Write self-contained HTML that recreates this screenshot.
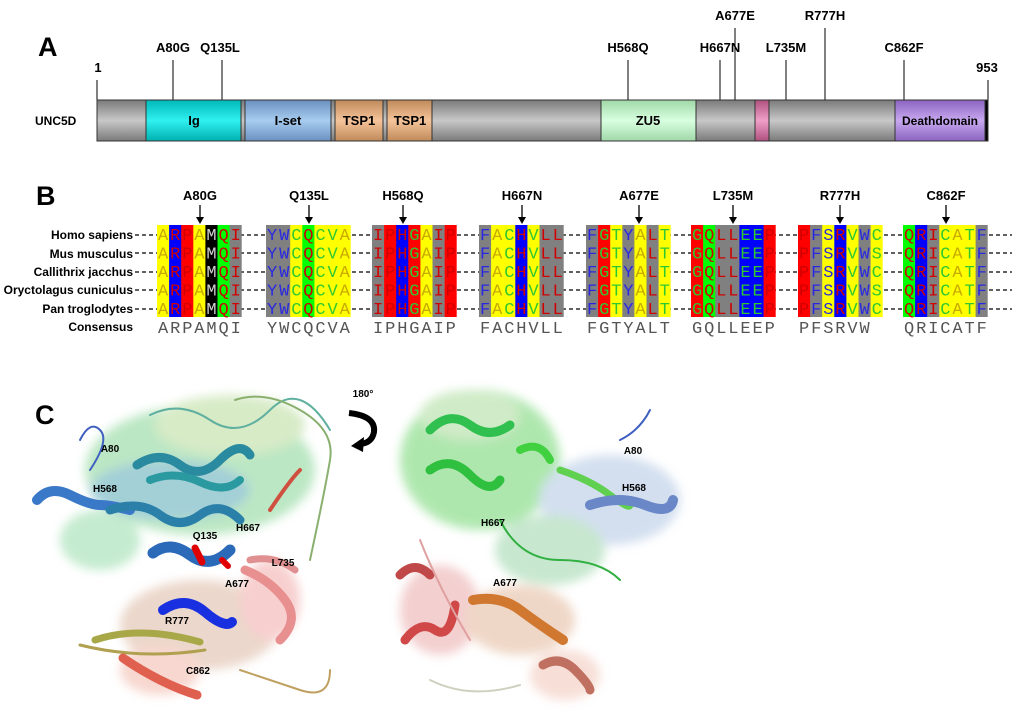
<!DOCTYPE html>
<html><head><meta charset="utf-8"><style>
body{margin:0;background:#fff;}
svg{display:block;font-family:"Liberation Sans",Arial,sans-serif;}
.lb{font-size:13px;font-weight:bold;text-anchor:middle;}
.sp{font-size:12px;font-weight:bold;text-anchor:end;}
.aa{font-family:"Liberation Mono",monospace;font-size:17px;}
.o{fill:#c8aa00}.r{fill:#d00000}.b{fill:#2828e0}.g{fill:#30c830}.w{fill:#d0d0d0}
.cs{font-family:"Liberation Mono",monospace;font-size:17px;fill:#555;}
.pl{font-size:10px;font-weight:bold;text-anchor:middle;}
</style></head><body>
<svg width="1020" height="717" viewBox="0 0 1020 717">
<defs>
<linearGradient id="gr" x1="0" y1="0" x2="0" y2="1"><stop offset="0" stop-color="#7a7a7a"/><stop offset="0.5" stop-color="#c8c8c8"/><stop offset="1" stop-color="#7a7a7a"/></linearGradient>
<linearGradient id="cy" x1="0" y1="0" x2="0" y2="1"><stop offset="0" stop-color="#00b8b8"/><stop offset="0.5" stop-color="#30f0f0"/><stop offset="1" stop-color="#00b0b0"/></linearGradient>
<linearGradient id="bl" x1="0" y1="0" x2="0" y2="1"><stop offset="0" stop-color="#6a90c0"/><stop offset="0.5" stop-color="#a8cdf0"/><stop offset="1" stop-color="#6a90c0"/></linearGradient>
<linearGradient id="ts" x1="0" y1="0" x2="0" y2="1"><stop offset="0" stop-color="#c08a5a"/><stop offset="0.5" stop-color="#f5c49a"/><stop offset="1" stop-color="#c08a5a"/></linearGradient>
<linearGradient id="zu" x1="0" y1="0" x2="0" y2="1"><stop offset="0" stop-color="#a0d8a8"/><stop offset="0.5" stop-color="#d8ffe0"/><stop offset="1" stop-color="#a0d8a8"/></linearGradient>
<linearGradient id="pk" x1="0" y1="0" x2="0" y2="1"><stop offset="0" stop-color="#b05080"/><stop offset="0.5" stop-color="#f0a0c8"/><stop offset="1" stop-color="#b05080"/></linearGradient>
<linearGradient id="dd" x1="0" y1="0" x2="0" y2="1"><stop offset="0" stop-color="#8a64c0"/><stop offset="0.5" stop-color="#c8a8f0"/><stop offset="1" stop-color="#8a64c0"/></linearGradient>
<filter id="bf"><feGaussianBlur stdDeviation="5"/></filter>
</defs>

<!-- Panel A -->
<text x="38" y="56" font-size="27" font-weight="bold">A</text>
<g stroke="#000" stroke-width="1">
<line x1="97" y1="80" x2="97" y2="100"/><line x1="988" y1="80" x2="988" y2="100"/>
<line x1="173" y1="60" x2="173" y2="100"/><line x1="222" y1="60" x2="222" y2="100"/>
<line x1="628" y1="60" x2="628" y2="100"/><line x1="720" y1="60" x2="720" y2="100"/>
<line x1="735" y1="28" x2="735" y2="100"/><line x1="786" y1="60" x2="786" y2="100"/>
<line x1="825" y1="28" x2="825" y2="100"/><line x1="904" y1="60" x2="904" y2="100"/>
</g>
<g class="lb">
<text x="98" y="72">1</text><text x="987" y="72">953</text>
<text x="173" y="52">A80G</text><text x="220" y="52">Q135L</text>
<text x="628" y="52">H568Q</text><text x="720" y="52">H667N</text>
<text x="735" y="20">A677E</text><text x="786" y="52">L735M</text>
<text x="825" y="20">R777H</text><text x="904" y="52">C862F</text>
</g>
<text x="35" y="125" font-size="12" font-weight="bold">UNC5D</text>
<g stroke="#333" stroke-width="1">
<rect x="97" y="100" width="891" height="41" fill="url(#gr)"/>
<rect x="146" y="100" width="95" height="41" fill="url(#cy)"/>
<rect x="245" y="100" width="86" height="41" fill="url(#bl)"/>
<rect x="335" y="100" width="48" height="41" fill="url(#ts)"/>
<rect x="387" y="100" width="45" height="41" fill="url(#ts)"/>
<rect x="601" y="100" width="95" height="41" fill="url(#zu)"/>
<rect x="755" y="100" width="14" height="41" fill="url(#pk)"/>
<rect x="895" y="100" width="90" height="41" fill="url(#dd)"/>
<rect x="985" y="100" width="3" height="41" fill="#000"/>
</g>
<g class="lb" font-size="13">
<text x="194" y="125">Ig</text><text x="288" y="125">I-set</text>
<text x="359" y="125">TSP1</text><text x="410" y="125">TSP1</text>
<text x="648" y="125">ZU5</text><text x="940" y="125" font-size="12">Deathdomain</text>
</g>

<!-- Panel B -->
<text x="36" y="205" font-size="27" font-weight="bold">B</text>
<g class="lb">
<text x="200" y="200">A80G</text><text x="309" y="200">Q135L</text><text x="403" y="200">H568Q</text><text x="522" y="200">H667N</text>
<text x="639" y="200">A677E</text><text x="733" y="200">L735M</text><text x="840" y="200">R777H</text><text x="946" y="200">C862F</text>
</g>
<g stroke="#000" stroke-width="1.3">
<line x1="200" y1="205" x2="200" y2="221"/><line x1="309" y1="205" x2="309" y2="221"/><line x1="403" y1="205" x2="403" y2="221"/><line x1="522" y1="205" x2="522" y2="221"/>
<line x1="639" y1="205" x2="639" y2="221"/><line x1="733" y1="205" x2="733" y2="221"/><line x1="840" y1="205" x2="840" y2="221"/><line x1="946" y1="205" x2="946" y2="221"/>
</g>
<g fill="#000">
<path d="M196,217 L204,217 L200,224Z"/><path d="M305,217 L313,217 L309,224Z"/><path d="M399,217 L407,217 L403,224Z"/><path d="M518,217 L526,217 L522,224Z"/>
<path d="M635,217 L643,217 L639,224Z"/><path d="M729,217 L737,217 L733,224Z"/><path d="M836,217 L844,217 L840,224Z"/><path d="M942,217 L950,217 L946,224Z"/>
</g>
<g class="sp">
<text x="133" y="239">Homo sapiens</text><text x="133" y="258">Mus musculus</text><text x="133" y="276">Callithrix jacchus</text>
<text x="133" y="294">Oryctolagus cuniculus</text><text x="133" y="313">Pan troglodytes</text><text x="133" y="331">Consensus</text>
</g>
<g stroke="#000" stroke-width="1.2" stroke-dasharray="4 3">
<line x1="135" y1="235" x2="1012" y2="235"/><line x1="135" y1="253" x2="1012" y2="253"/><line x1="135" y1="272" x2="1012" y2="272"/>
<line x1="135" y1="290" x2="1012" y2="290"/><line x1="135" y1="309" x2="1012" y2="309"/>
</g>
<g>
<rect x="157" y="225" width="12.4" height="92" fill="#ff0"/><rect x="169.1" y="225" width="12.4" height="92" fill="#00f"/><rect x="181.2" y="225" width="12.4" height="92" fill="#f00"/><rect x="193.3" y="225" width="12.4" height="92" fill="#ff0"/><rect x="205.4" y="225" width="12.4" height="92" fill="#000"/><rect x="217.5" y="225" width="12.4" height="92" fill="#0f0"/><rect x="229.6" y="225" width="12.1" height="92" fill="#808080"/>
<rect x="266" y="225" width="24.5" height="92" fill="#808080"/><rect x="290.2" y="225" width="12.4" height="92" fill="#ff0"/><rect x="302.3" y="225" width="12.4" height="92" fill="#0f0"/><rect x="314.4" y="225" width="36.3" height="92" fill="#ff0"/>
<rect x="372" y="225" width="12.4" height="92" fill="#808080"/><rect x="384.1" y="225" width="12.4" height="92" fill="#f00"/><rect x="396.2" y="225" width="12.4" height="92" fill="#00f"/><rect x="408.3" y="225" width="12.4" height="92" fill="#f00"/><rect x="420.4" y="225" width="12.4" height="92" fill="#ff0"/><rect x="432.5" y="225" width="12.4" height="92" fill="#808080"/><rect x="444.6" y="225" width="12.1" height="92" fill="#f00"/>
<rect x="479" y="225" width="12.4" height="92" fill="#808080"/><rect x="491.1" y="225" width="24.5" height="92" fill="#ff0"/><rect x="515.3" y="225" width="12.4" height="92" fill="#00f"/><rect x="527.4" y="225" width="12.4" height="92" fill="#ff0"/><rect x="539.5" y="225" width="24.2" height="92" fill="#808080"/>
<rect x="586" y="225" width="12.4" height="92" fill="#808080"/><rect x="598.1" y="225" width="12.4" height="92" fill="#f00"/><rect x="610.2" y="225" width="12.4" height="92" fill="#ff0"/><rect x="622.3" y="225" width="12.4" height="92" fill="#808080"/><rect x="634.4" y="225" width="12.4" height="92" fill="#ff0"/><rect x="646.5" y="225" width="12.4" height="92" fill="#808080"/><rect x="658.6" y="225" width="12.1" height="92" fill="#ff0"/>
<rect x="691" y="225" width="12.4" height="92" fill="#f00"/><rect x="703.1" y="225" width="12.4" height="92" fill="#0f0"/><rect x="715.2" y="225" width="24.5" height="92" fill="#808080"/><rect x="739.4" y="225" width="24.5" height="92" fill="#00f"/><rect x="763.6" y="225" width="12.1" height="92" fill="#f00"/>
<rect x="798" y="225" width="12.4" height="92" fill="#f00"/><rect x="810.1" y="225" width="12.4" height="92" fill="#808080"/><rect x="822.2" y="225" width="12.4" height="92" fill="#ff0"/><rect x="834.3" y="225" width="12.4" height="92" fill="#00f"/><rect x="846.4" y="225" width="12.4" height="92" fill="#ff0"/><rect x="858.5" y="225" width="12.4" height="92" fill="#808080"/><rect x="870.6" y="225" width="12.1" height="92" fill="#ff0"/>
<rect x="903" y="225" width="12.4" height="92" fill="#0f0"/><rect x="915.1" y="225" width="12.4" height="92" fill="#00f"/><rect x="927.2" y="225" width="12.4" height="92" fill="#808080"/><rect x="939.3" y="225" width="36.6" height="92" fill="#ff0"/><rect x="975.6" y="225" width="12.1" height="92" fill="#808080"/>
</g>
<g class="aa">
<text x="158 170.1 182.2 194.3 206.4 218.5 230.6" y="240"><tspan class="o">A</tspan><tspan class="r">RP</tspan><tspan class="o">A</tspan><tspan class="w">M</tspan><tspan class="r">QI</tspan></text>
<text x="158 170.1 182.2 194.3 206.4 218.5 230.6" y="258.5"><tspan class="o">A</tspan><tspan class="r">RP</tspan><tspan class="o">A</tspan><tspan class="w">M</tspan><tspan class="r">QI</tspan></text>
<text x="158 170.1 182.2 194.3 206.4 218.5 230.6" y="277"><tspan class="o">A</tspan><tspan class="r">RP</tspan><tspan class="o">A</tspan><tspan class="w">M</tspan><tspan class="r">QI</tspan></text>
<text x="158 170.1 182.2 194.3 206.4 218.5 230.6" y="295.5"><tspan class="o">A</tspan><tspan class="r">RP</tspan><tspan class="o">A</tspan><tspan class="w">M</tspan><tspan class="r">QI</tspan></text>
<text x="158 170.1 182.2 194.3 206.4 218.5 230.6" y="314"><tspan class="o">A</tspan><tspan class="r">RP</tspan><tspan class="o">A</tspan><tspan class="w">M</tspan><tspan class="r">QI</tspan></text>

<text x="267 279.1 291.2 303.3 315.4 327.5 339.6" y="240"><tspan class="b">YW</tspan><tspan class="g">C</tspan><tspan class="r">Q</tspan><tspan class="g">CV</tspan><tspan class="o">A</tspan></text>
<text x="267 279.1 291.2 303.3 315.4 327.5 339.6" y="258.5"><tspan class="b">YW</tspan><tspan class="g">C</tspan><tspan class="r">Q</tspan><tspan class="g">CV</tspan><tspan class="o">A</tspan></text>
<text x="267 279.1 291.2 303.3 315.4 327.5 339.6" y="277"><tspan class="b">YW</tspan><tspan class="g">C</tspan><tspan class="r">Q</tspan><tspan class="g">CV</tspan><tspan class="o">A</tspan></text>
<text x="267 279.1 291.2 303.3 315.4 327.5 339.6" y="295.5"><tspan class="b">YW</tspan><tspan class="g">C</tspan><tspan class="r">Q</tspan><tspan class="g">CV</tspan><tspan class="o">A</tspan></text>
<text x="267 279.1 291.2 303.3 315.4 327.5 339.6" y="314"><tspan class="b">YW</tspan><tspan class="g">C</tspan><tspan class="r">Q</tspan><tspan class="g">CV</tspan><tspan class="o">A</tspan></text>

<text x="373 385.1 397.2 409.3 421.4 433.5 445.6" y="240"><tspan class="r">IPH</tspan><tspan class="g">G</tspan><tspan class="o">A</tspan><tspan class="r">IP</tspan></text>
<text x="373 385.1 397.2 409.3 421.4 433.5 445.6" y="258.5"><tspan class="r">IPH</tspan><tspan class="g">G</tspan><tspan class="o">A</tspan><tspan class="r">IP</tspan></text>
<text x="373 385.1 397.2 409.3 421.4 433.5 445.6" y="277"><tspan class="r">IPH</tspan><tspan class="g">G</tspan><tspan class="o">A</tspan><tspan class="r">IP</tspan></text>
<text x="373 385.1 397.2 409.3 421.4 433.5 445.6" y="295.5"><tspan class="r">IPH</tspan><tspan class="g">G</tspan><tspan class="o">A</tspan><tspan class="r">IP</tspan></text>
<text x="373 385.1 397.2 409.3 421.4 433.5 445.6" y="314"><tspan class="r">IPH</tspan><tspan class="g">G</tspan><tspan class="o">A</tspan><tspan class="r">IP</tspan></text>

<text x="480 492.1 504.2 516.3 528.4 540.5 552.6" y="240"><tspan class="b">F</tspan><tspan class="o">A</tspan><tspan class="g">C</tspan><tspan class="r">H</tspan><tspan class="g">V</tspan><tspan class="r">LL</tspan></text>
<text x="480 492.1 504.2 516.3 528.4 540.5 552.6" y="258.5"><tspan class="b">F</tspan><tspan class="o">A</tspan><tspan class="g">C</tspan><tspan class="r">H</tspan><tspan class="g">V</tspan><tspan class="r">LL</tspan></text>
<text x="480 492.1 504.2 516.3 528.4 540.5 552.6" y="277"><tspan class="b">F</tspan><tspan class="o">A</tspan><tspan class="g">C</tspan><tspan class="r">H</tspan><tspan class="g">V</tspan><tspan class="r">LL</tspan></text>
<text x="480 492.1 504.2 516.3 528.4 540.5 552.6" y="295.5"><tspan class="b">F</tspan><tspan class="o">A</tspan><tspan class="g">C</tspan><tspan class="r">H</tspan><tspan class="g">V</tspan><tspan class="r">LL</tspan></text>
<text x="480 492.1 504.2 516.3 528.4 540.5 552.6" y="314"><tspan class="b">F</tspan><tspan class="o">A</tspan><tspan class="g">C</tspan><tspan class="r">H</tspan><tspan class="g">V</tspan><tspan class="r">LL</tspan></text>

<text x="587 599.1 611.2 623.3 635.4 647.5 659.6" y="240"><tspan class="b">F</tspan><tspan class="g">GT</tspan><tspan class="b">Y</tspan><tspan class="o">A</tspan><tspan class="r">L</tspan><tspan class="g">T</tspan></text>
<text x="587 599.1 611.2 623.3 635.4 647.5 659.6" y="258.5"><tspan class="b">F</tspan><tspan class="g">GT</tspan><tspan class="b">Y</tspan><tspan class="o">A</tspan><tspan class="r">L</tspan><tspan class="g">T</tspan></text>
<text x="587 599.1 611.2 623.3 635.4 647.5 659.6" y="277"><tspan class="b">F</tspan><tspan class="g">GT</tspan><tspan class="b">Y</tspan><tspan class="o">A</tspan><tspan class="r">L</tspan><tspan class="g">T</tspan></text>
<text x="587 599.1 611.2 623.3 635.4 647.5 659.6" y="295.5"><tspan class="b">F</tspan><tspan class="g">GT</tspan><tspan class="b">Y</tspan><tspan class="o">A</tspan><tspan class="r">L</tspan><tspan class="g">T</tspan></text>
<text x="587 599.1 611.2 623.3 635.4 647.5 659.6" y="314"><tspan class="b">F</tspan><tspan class="g">GT</tspan><tspan class="b">Y</tspan><tspan class="o">A</tspan><tspan class="r">L</tspan><tspan class="g">T</tspan></text>

<text x="692 704.1 716.2 728.3 740.4 752.5 764.6" y="240"><tspan class="g">G</tspan><tspan class="r">QLL</tspan><tspan class="g">EE</tspan><tspan class="r">P</tspan></text>
<text x="692 704.1 716.2 728.3 740.4 752.5 764.6" y="258.5"><tspan class="g">G</tspan><tspan class="r">QLL</tspan><tspan class="g">EE</tspan><tspan class="r">P</tspan></text>
<text x="692 704.1 716.2 728.3 740.4 752.5 764.6" y="277"><tspan class="g">G</tspan><tspan class="r">QLL</tspan><tspan class="g">EE</tspan><tspan class="r">P</tspan></text>
<text x="692 704.1 716.2 728.3 740.4 752.5 764.6" y="295.5"><tspan class="g">G</tspan><tspan class="r">QLL</tspan><tspan class="g">EE</tspan><tspan class="r">P</tspan></text>
<text x="692 704.1 716.2 728.3 740.4 752.5 764.6" y="314"><tspan class="g">G</tspan><tspan class="r">QLL</tspan><tspan class="g">EE</tspan><tspan class="r">P</tspan></text>

<text x="799 811.1 823.2 835.3 847.4 859.5 871.6" y="240"><tspan class="r">P</tspan><tspan class="b">FS</tspan><tspan class="r">R</tspan><tspan class="g">V</tspan><tspan class="b">W</tspan><tspan class="g">C</tspan></text>
<text x="799 811.1 823.2 835.3 847.4 859.5 871.6" y="258.5"><tspan class="r">P</tspan><tspan class="b">FS</tspan><tspan class="r">R</tspan><tspan class="g">V</tspan><tspan class="b">W</tspan><tspan class="g">S</tspan></text>
<text x="799 811.1 823.2 835.3 847.4 859.5 871.6" y="277"><tspan class="r">P</tspan><tspan class="b">FS</tspan><tspan class="r">R</tspan><tspan class="g">V</tspan><tspan class="b">W</tspan><tspan class="g">C</tspan></text>
<text x="799 811.1 823.2 835.3 847.4 859.5 871.6" y="295.5"><tspan class="r">P</tspan><tspan class="b">FS</tspan><tspan class="r">R</tspan><tspan class="g">V</tspan><tspan class="b">W</tspan><tspan class="g">S</tspan></text>
<text x="799 811.1 823.2 835.3 847.4 859.5 871.6" y="314"><tspan class="r">P</tspan><tspan class="b">FS</tspan><tspan class="r">R</tspan><tspan class="g">V</tspan><tspan class="b">W</tspan><tspan class="g">C</tspan></text>

<text x="904 916.1 928.2 940.3 952.4 964.5 976.6" y="240"><tspan class="r">QRI</tspan><tspan class="g">C</tspan><tspan class="o">A</tspan><tspan class="g">T</tspan><tspan class="b">F</tspan></text>
<text x="904 916.1 928.2 940.3 952.4 964.5 976.6" y="258.5"><tspan class="r">QRI</tspan><tspan class="g">C</tspan><tspan class="o">A</tspan><tspan class="g">T</tspan><tspan class="b">F</tspan></text>
<text x="904 916.1 928.2 940.3 952.4 964.5 976.6" y="277"><tspan class="r">QRI</tspan><tspan class="g">C</tspan><tspan class="o">A</tspan><tspan class="g">T</tspan><tspan class="b">F</tspan></text>
<text x="904 916.1 928.2 940.3 952.4 964.5 976.6" y="295.5"><tspan class="r">QRI</tspan><tspan class="g">C</tspan><tspan class="o">A</tspan><tspan class="g">T</tspan><tspan class="b">F</tspan></text>
<text x="904 916.1 928.2 940.3 952.4 964.5 976.6" y="314"><tspan class="r">QRI</tspan><tspan class="g">C</tspan><tspan class="o">A</tspan><tspan class="g">T</tspan><tspan class="b">F</tspan></text>
</g>
<g class="cs">
<text x="158 170.1 182.2 194.3 206.4 218.5 230.6" y="333">ARPAMQI</text>
<text x="267 279.1 291.2 303.3 315.4 327.5 339.6" y="333">YWCQCVA</text>
<text x="373 385.1 397.2 409.3 421.4 433.5 445.6" y="333">IPHGAIP</text>
<text x="480 492.1 504.2 516.3 528.4 540.5 552.6" y="333">FACHVLL</text>
<text x="587 599.1 611.2 623.3 635.4 647.5 659.6" y="333">FGTYALT</text>
<text x="692 704.1 716.2 728.3 740.4 752.5 764.6" y="333">GQLLEEP</text>
<text x="799 811.1 823.2 835.3 847.4 859.5" y="333">PFSRVW</text>
<text x="904 916.1 928.2 940.3 952.4 964.5 976.6" y="333">QRICATF</text>
</g>

<!-- Panel C -->
<text x="35" y="424" font-size="27" font-weight="bold">C</text>
<text x="363" y="397" font-size="10" font-weight="bold" text-anchor="middle">180°</text>
<path d="M349,413 Q376,416 374,432 Q372,443 360,444" fill="none" stroke="#000" stroke-width="6"/>
<path d="M364,437 L351,446 L363,452Z" fill="#000"/>

<!-- left structure -->
<g filter="url(#bf)" opacity="0.5">
<ellipse cx="200" cy="470" rx="115" ry="65" fill="#7ad08a"/>
<ellipse cx="230" cy="425" rx="75" ry="30" fill="#b0d890"/>
<ellipse cx="170" cy="490" rx="80" ry="30" fill="#4aa0b0"/>
<ellipse cx="100" cy="540" rx="40" ry="30" fill="#8ad8a0"/>
<ellipse cx="200" cy="625" rx="80" ry="45" fill="#d8b098"/>
<ellipse cx="270" cy="600" rx="30" ry="40" fill="#f0a0a0"/>
<ellipse cx="160" cy="670" rx="40" ry="25" fill="#f0b0a0"/>
</g>
<g fill="none" stroke-linecap="round">
<path d="M37,500 Q50,485 70,495 T100,505 T130,510" stroke="#3a78c8" stroke-width="10"/>
<path d="M110,510 Q140,500 160,515 T200,515 T240,520" stroke="#2a80a8" stroke-width="9"/>
<path d="M137,465 Q160,450 180,465 T220,460 T250,455" stroke="#2a8aa0" stroke-width="9"/>
<path d="M150,480 Q175,470 200,482 T240,480" stroke="#2a9aa0" stroke-width="8"/>
<path d="M153,553 Q170,540 190,555 T230,550" stroke="#2a6ab8" stroke-width="11"/>
<path d="M195,548 L202,562" stroke="#e00000" stroke-width="7"/>
<path d="M222,560 L228,566" stroke="#e00000" stroke-width="6"/>
<path d="M163,610 Q185,595 205,612 T232,622" stroke="#1830e0" stroke-width="10"/>
<path d="M95,640 Q140,625 200,642" stroke="#a8a848" stroke-width="7"/>
<path d="M80,645 Q140,660 205,650" stroke="#b0a050" stroke-width="3"/>
<path d="M123,658 Q140,670 160,680 T197,695" stroke="#e06050" stroke-width="9"/>
<path d="M245,570 Q270,580 285,600 T280,640" stroke="#e89090" stroke-width="9"/>
<path d="M250,560 Q275,555 295,570" stroke="#e09090" stroke-width="7"/>
<path d="M150,415 Q180,400 210,420 T270,410 T330,430" stroke="#60b0a0" stroke-width="2"/>
<path d="M235,400 Q265,390 300,410 T330,460 T310,560" stroke="#8ab070" stroke-width="2"/>
<path d="M90,470 Q110,440 100,430 T80,440" stroke="#4060c0" stroke-width="2"/>
<path d="M240,670 Q270,680 300,690 T330,670" stroke="#c0a060" stroke-width="2"/>
<path d="M270,510 Q290,480 300,470" stroke="#d05040" stroke-width="4"/>
</g>
<g class="pl">
<text x="110" y="452">A80</text><text x="105" y="492">H568</text><text x="205" y="539">Q135</text><text x="248" y="531">H667</text>
<text x="283" y="566">L735</text><text x="237" y="587">A677</text><text x="177" y="624">R777</text><text x="198" y="674">C862</text>
</g>

<!-- right structure -->
<g filter="url(#bf)" opacity="0.5">
<ellipse cx="480" cy="460" rx="80" ry="70" fill="#60d060"/>
<ellipse cx="470" cy="415" rx="50" ry="25" fill="#a0d890"/>
<ellipse cx="610" cy="500" rx="70" ry="45" fill="#a8c0e0"/>
<ellipse cx="550" cy="550" rx="55" ry="35" fill="#90d0a0"/>
<ellipse cx="440" cy="610" rx="40" ry="45" fill="#e8a0a0"/>
<ellipse cx="520" cy="620" rx="55" ry="35" fill="#e0b090"/>
<ellipse cx="565" cy="675" rx="35" ry="25" fill="#f0c0b0"/>
</g>
<g fill="none" stroke-linecap="round">
<path d="M430,430 Q450,410 470,425 T510,425" stroke="#30c050" stroke-width="9"/>
<path d="M430,470 Q450,455 470,475 T500,480" stroke="#30c040" stroke-width="9"/>
<path d="M520,450 Q540,440 550,460" stroke="#40d040" stroke-width="8"/>
<path d="M560,470 Q590,480 610,495 T630,505" stroke="#60d050" stroke-width="7"/>
<path d="M590,505 Q620,495 645,505 T673,500" stroke="#6a88c8" stroke-width="10"/>
<path d="M400,575 Q415,560 430,575" stroke="#c04848" stroke-width="9"/>
<path d="M405,640 Q420,620 435,630 T455,605" stroke="#d04848" stroke-width="9"/>
<path d="M473,600 Q500,595 520,610 T563,640" stroke="#d07830" stroke-width="10"/>
<path d="M543,665 Q560,655 575,670 T590,690" stroke="#c07060" stroke-width="9"/>
<path d="M420,540 Q440,590 470,640" stroke="#e0a0a0" stroke-width="2"/>
<path d="M500,520 Q520,560 560,560 T620,580" stroke="#30b040" stroke-width="2"/>
<path d="M620,440 Q640,430 650,410" stroke="#4060c0" stroke-width="2"/>
<path d="M430,680 Q470,700 520,685" stroke="#d0d0c0" stroke-width="2"/>
</g>
<g class="pl">
<text x="633" y="454">A80</text><text x="634" y="491">H568</text><text x="493" y="526">H667</text><text x="505" y="586">A677</text>
</g>
</svg>
</body></html>
